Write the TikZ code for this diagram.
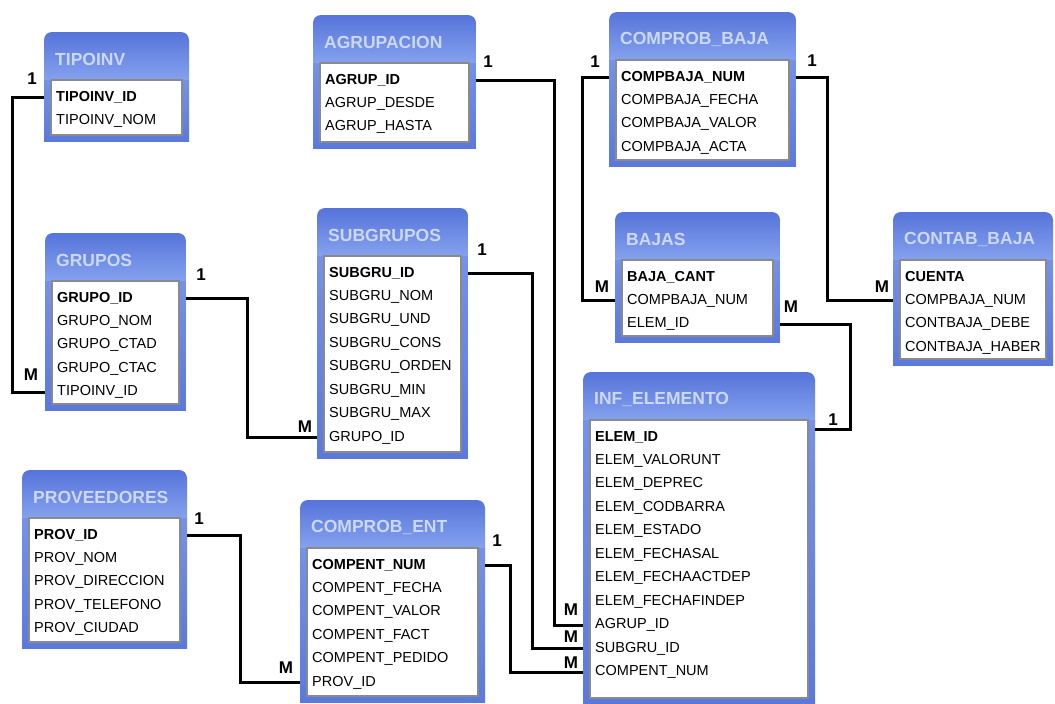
\documentclass[tikz,border=0pt]{standalone}
\usepackage{fontspec}
\setmainfont{Liberation Sans}
\usetikzlibrary{fit}
\definecolor{hdrTop}{HTML}{5674DA}
\definecolor{hdrBot}{HTML}{85A2EE}
\definecolor{bodyTop}{HTML}{7492E9}
\definecolor{bodyBot}{HTML}{5B79DC}
\definecolor{ttl}{HTML}{CBD8F6}
\definecolor{inbd}{HTML}{8A8A8A}
\tikzset{
  hdr/.style={top color=hdrTop, bottom color=hdrBot},
  bodyshade/.style={top color=bodyTop, bottom color=bodyBot},
  inbox/.style={fill=white, draw=inbd, line width=1.2pt},
  ttlnode/.style={font=\fontsize{17.5}{19}\selectfont\bfseries, text=ttl, inner sep=0pt, anchor=west},
  fld/.style={font=\fontsize{14.5}{16}\selectfont, inner sep=0pt, anchor=west},
  conn/.style={draw=black, line width=3pt},
  card/.style={font=\fontsize{17}{18}\selectfont\bfseries, inner sep=0pt},
  tbox/.style={inner sep=0pt, draw=none},
}
\newcommand\dbtable[7]{%
  \coordinate (#1-nw) at (#2,#3);
  \coordinate (#1-se) at (#4,#5);
  \node[tbox, fit=(#1-nw)(#1-se)] (#1) {};
  \begin{scope}
    \clip[rounded corners=8pt] (#1-nw) rectangle (#4,#5+20);
    \shade[hdr] (#1-nw) rectangle (#4,#3+48);
    \shade[bodyshade] (#2,#3+48) rectangle (#1-se);
  \end{scope}
  \draw[inbox] (#2+7,#3+48) rectangle (#4-7,#5-6);
  \node[ttlnode] (#1-t) at (#2+11,#3+27) {#6};
  \foreach \f [count=\i] in {#7} {
    \node[fld] (#1-\i) at (#2+12,#3+65+23.5*\i-23.5) {\ifnum\i=1\bfseries\fi\f};
  }%
}
\begin{document}
\begin{tikzpicture}[x=1pt,y=-1pt]
\useasboundingbox[fill=white] (0,0) rectangle (1055,704);

\dbtable{tipoinv}{44}{32}{189}{141}{TIPOINV}{TIPOINV\_ID,TIPOINV\_NOM}
\dbtable{grupos}{45}{233}{186}{410}{GRUPOS}{GRUPO\_ID,GRUPO\_NOM,GRUPO\_CTAD,GRUPO\_CTAC,TIPOINV\_ID}
\dbtable{agrup}{313}{15}{476}{148}{AGRUPACION}{AGRUP\_ID,AGRUP\_DESDE,AGRUP\_HASTA}
\dbtable{compbaja}{609}{12}{796}{166}{COMPROB\_BAJA}{COMPBAJA\_NUM,COMPBAJA\_FECHA,COMPBAJA\_VALOR,COMPBAJA\_ACTA}
\dbtable{subgru}{317}{208}{468}{458}{SUBGRUPOS}{SUBGRU\_ID,SUBGRU\_NOM,SUBGRU\_UND,SUBGRU\_CONS,SUBGRU\_ORDEN,SUBGRU\_MIN,SUBGRU\_MAX,GRUPO\_ID}
\dbtable{bajas}{615}{212}{780}{342}{BAJAS}{BAJA\_CANT,COMPBAJA\_NUM,ELEM\_ID}
\dbtable{contab}{893}{212}{1053}{365}{CONTAB\_BAJA}{CUENTA,COMPBAJA\_NUM,CONTBAJA\_DEBE,CONTBAJA\_HABER}
\dbtable{inf}{583}{372}{815}{704}{INF\_ELEMENTO}{ELEM\_ID,ELEM\_VALORUNT,ELEM\_DEPREC,ELEM\_CODBARRA,ELEM\_ESTADO,ELEM\_FECHASAL,ELEM\_FECHAACTDEP,ELEM\_FECHAFINDEP,AGRUP\_ID,SUBGRU\_ID,COMPENT\_NUM}
\dbtable{prov}{22}{470}{187}{648}{PROVEEDORES}{PROV\_ID,PROV\_NOM,PROV\_DIRECCION,PROV\_TELEFONO,PROV\_CIUDAD}
\dbtable{compent}{300}{500}{485}{702}{COMPROB\_ENT}{COMPENT\_NUM,COMPENT\_FECHA,COMPENT\_VALOR,COMPENT\_FACT,COMPENT\_PEDIDO,PROV\_ID}

% bend coordinates
\coordinate (k1) at (12,240);
\coordinate (k2) at (247,360);
\coordinate (k3) at (554,300);
\coordinate (k4) at (532,450);
\coordinate (k5) at (510,620);
\coordinate (k6) at (240,600);
\coordinate (k7) at (582,180);
\coordinate (k8) at (827,180);
\coordinate (k9) at (850,380);
\coordinate (inf-pk) at ([yshift=8pt]inf-1.center);

\draw[conn] (tipoinv.west |- tipoinv-1) -| (k1) |- (grupos.west |- grupos-5);
\draw[conn] (grupos.east |- grupos-1) -| (k2) |- (subgru.west |- subgru-8);
\draw[conn] (agrup.east |- agrup-1) -| (k3) |- (inf.west |- inf-9);
\draw[conn] (subgru.east |- subgru-1) -| (k4) |- (inf.west |- inf-10);
\draw[conn] (compent.east |- compent-1) -| (k5) |- (inf.west |- inf-11);
\draw[conn] (prov.east |- prov-1) -| (k6) |- (compent.west |- compent-6);
\draw[conn] (compbaja.west |- compbaja-1) -| (k7) |- (bajas.west |- bajas-2);
\draw[conn] (compbaja.east |- compbaja-1) -| (k8) |- (contab.west |- contab-2);
\draw[conn] (bajas.east |- bajas-3) -| (k9) |- (inf.east |- inf-pk);

% cardinality labels
\node[card] (c1a) at (32,79) {1};
\node[card] (c1b) at (31,375) {M};
\node[card] (c2a) at (201,275) {1};
\node[card] (c2b) at (305,427) {M};
\node[card] (c3a) at (488,62) {1};
\node[card] (c3b) at (571,610) {M};
\node[card] (c4a) at (482,250) {1};
\node[card] (c4b) at (571,637) {M};
\node[card] (c5a) at (497,541) {1};
\node[card] (c5b) at (571,663) {M};
\node[card] (c6a) at (199,519) {1};
\node[card] (c6b) at (286,668) {M};
\node[card] (c7a) at (595,62) {1};
\node[card] (c7b) at (602,287) {M};
\node[card] (c8a) at (812,61) {1};
\node[card] (c8b) at (882,287) {M};
\node[card] (c9a) at (791,307) {M};
\node[card] (c9b) at (833,420) {1};
\end{tikzpicture}
\end{document}
